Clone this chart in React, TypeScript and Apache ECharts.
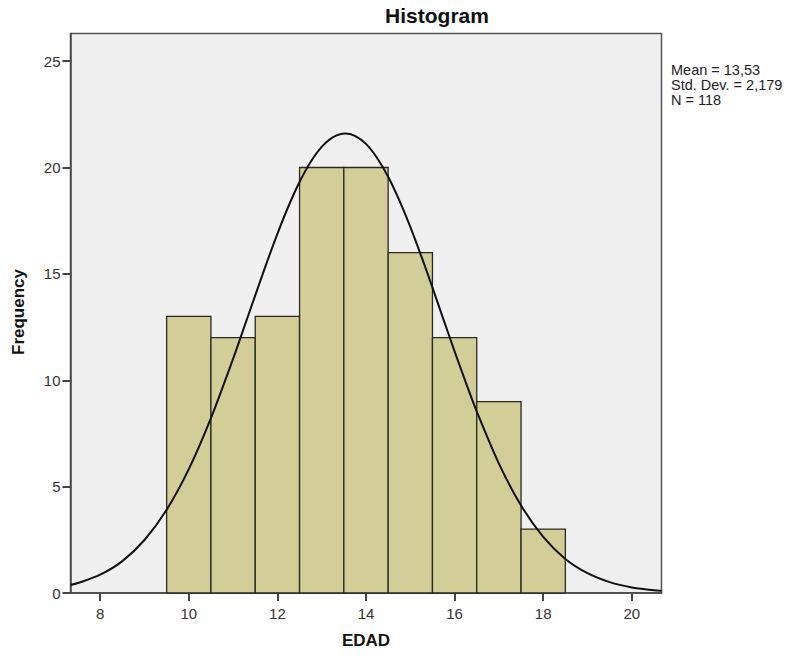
import React, { useEffect, useRef } from "react";
import * as echarts from "echarts";

// Histogram bins (EDAD), width 1
const binStarts = [9.5, 10.5, 11.5, 12.5, 13.5, 14.5, 15.5, 16.5, 17.5];
const binEnds = [10.5, 11.5, 12.5, 13.5, 14.5, 15.5, 16.5, 17.5, 18.5];
const counts = [13, 12, 13, 20, 20, 16, 12, 9, 3];

// Normal curve points
const curveX = [7.33, 7.5, 8, 8.5, 9, 9.5, 10, 10.5, 11, 11.25, 11.5, 11.75, 12, 12.25, 12.5, 12.75, 13, 13.25, 13.53, 13.75, 14, 14.25, 14.5, 14.75, 15, 15.25, 15.5, 15.75, 16, 16.25, 16.5, 17, 17.5, 18, 18.5, 19, 19.5, 20, 20.5, 20.67];
const curveY = [0.38, 0.47, 0.86, 1.5, 2.49, 3.91, 5.82, 8.22, 11.01, 12.5, 13.99, 15.47, 16.88, 18.18, 19.32, 20.26, 20.97, 21.42, 21.6, 21.49, 21.11, 20.45, 19.57, 18.47, 17.21, 15.82, 14.36, 12.85, 11.36, 9.91, 8.53, 6.08, 4.11, 2.64, 1.6, 0.93, 0.51, 0.26, 0.13, 0.1];

const xTicks = [8, 10, 12, 14, 16, 18, 20];
const yTicks = [0, 5, 10, 15, 20, 25];

const statsLines = ["Mean = 13,53", "Std. Dev. = 2,179", "N = 118"];

export default function App() {
  const ref = useRef<HTMLDivElement>(null);

  useEffect(() => {
    document.body.style.margin = "0";
    if (!ref.current) return;
    const chart = echarts.init(ref.current, null, { renderer: "svg" });
    const font = "'Liberation Sans', Arial, sans-serif";
    const axisColor = "#444";

    chart.setOption({
      animation: false,
      grid: {
        left: 70.5,
        top: 33.5,
        right: 132.5,
        bottom: 63,
        show: true,
        backgroundColor: "#f0f0f0",
        borderColor: "#555",
        borderWidth: 1.5,
      },
      xAxis: {
        type: "value",
        min: 7.33,
        max: 20.67,
        splitLine: { show: false },
        axisLine: { show: true, onZero: false, lineStyle: { color: axisColor, width: 1.5 } },
        axisTick: { show: true, length: 8, customValues: xTicks, lineStyle: { color: axisColor, width: 2 } },
        axisLabel: { customValues: xTicks, margin: 13, fontSize: 15, color: "#333", fontFamily: font },
      },
      yAxis: {
        type: "value",
        min: 0,
        max: 26.3,
        splitLine: { show: false },
        axisLine: { show: true, lineStyle: { color: axisColor, width: 1.5 } },
        axisTick: { show: true, length: 8, customValues: yTicks, lineStyle: { color: axisColor, width: 2 } },
        axisLabel: { customValues: yTicks, margin: 10, fontSize: 15, color: "#333", fontFamily: font },
      },
      series: [
        {
          type: "custom",
          data: counts.map((c, i) => [binStarts[i], binEnds[i], c]),
          encode: { x: [0, 1], y: 2 },
          renderItem: (params: any, api: any) => {
            const p0 = api.coord([api.value(0), api.value(2)]);
            const p1 = api.coord([api.value(1), 0]);
            return {
              type: "rect",
              shape: { x: p0[0], y: p0[1], width: p1[0] - p0[0], height: p1[1] - p0[1] },
              style: { fill: "#d3ce97", stroke: "#2a2a22", lineWidth: 1.3 },
            };
          },
          z: 2,
        },
        {
          type: "line",
          data: curveX.map((x, i) => [x, curveY[i]]),
          smooth: 0.3,
          showSymbol: false,
          lineStyle: { color: "#111", width: 2 },
          clip: true,
          z: 3,
        },
      ],
      graphic: [
        {
          type: "text",
          x: 437,
          y: 15,
          style: { text: "Histogram", fontSize: 21, fontWeight: "bold", fill: "#111", fontFamily: font, textAlign: "center", textVerticalAlign: "middle" },
        },
        {
          type: "text",
          x: 18,
          y: 312,
          rotation: Math.PI / 2,
          style: { text: "Frequency", fontSize: 17, fontWeight: "bold", fill: "#111", fontFamily: font, textAlign: "center", textVerticalAlign: "middle" },
        },
        {
          type: "text",
          x: 366,
          y: 640,
          style: { text: "EDAD", fontSize: 17, fontWeight: "bold", fill: "#111", fontFamily: font, textAlign: "center", textVerticalAlign: "middle" },
        },
        {
          type: "text",
          x: 671,
          y: 62,
          style: { text: statsLines.join("\n"), fontSize: 14.5, lineHeight: 15, fill: "#222", fontFamily: font, textAlign: "left", textVerticalAlign: "top" },
        },
      ],
    });

    return () => chart.dispose();
  }, []);

  return <div ref={ref} style={{ width: 794, height: 656 }} />;
}
